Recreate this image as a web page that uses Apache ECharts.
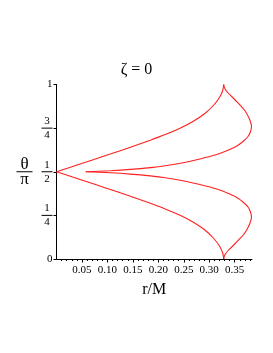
<!DOCTYPE html>
<html><head><meta charset="utf-8">
<script src="https://cdn.jsdelivr.net/npm/echarts@6/dist/echarts.min.js"></script>
<style>html,body{margin:0;padding:0;background:#fff}#c{width:273px;height:353px}</style>
</head><body><div id="c"></div>
<script>
// Branch 1: outer upper (from axis to top cusp)
const outerUpperX = [0, 0.0478, 0.0965, 0.1452, 0.1842, 0.2135, 0.2427, 0.2680, 0.2914, 0.3090, 0.3207, 0.3265, 0.3285];
const outerUpperY = [0.5, 0.5456, 0.5926, 0.6407, 0.6808, 0.7129, 0.7496, 0.7880, 0.8338, 0.8825, 0.9284, 0.9656, 1.0];
// Branch 2: top cusp -> bulge -> inner meeting point
const innerUpperX = [0.3285, 0.3294, 0.3324, 0.3372, 0.3441, 0.3519, 0.3606, 0.3684, 0.3752, 0.3801, 0.3830, 0.3811, 0.3762, 0.3674, 0.3558, 0.3402, 0.3148, 0.2817, 0.2485, 0.2135, 0.1842, 0.1452, 0.1062, 0.0575];
const innerUpperY = [1.0, 0.9857, 0.9685, 0.9513, 0.9312, 0.9083, 0.8825, 0.8567, 0.8252, 0.7937, 0.7622, 0.7307, 0.7020, 0.6762, 0.6504, 0.6275, 0.5989, 0.5731, 0.5513, 0.5341, 0.5238, 0.5135, 0.5060, 0.5];
// Branch 3: outer lower (from axis to bottom cusp)
const outerLowerX = [0, 0.0478, 0.0965, 0.1452, 0.1842, 0.2135, 0.2427, 0.2680, 0.2914, 0.3090, 0.3207, 0.3265, 0.3285];
const outerLowerY = [0.5, 0.4544, 0.4074, 0.3593, 0.3192, 0.2871, 0.2504, 0.2120, 0.1662, 0.1175, 0.0716, 0.0344, 0.0];
// Branch 4: bottom cusp -> bulge -> inner meeting point
const innerLowerX = [0.3285, 0.3294, 0.3324, 0.3372, 0.3441, 0.3519, 0.3606, 0.3684, 0.3752, 0.3801, 0.3830, 0.3811, 0.3762, 0.3674, 0.3558, 0.3402, 0.3148, 0.2817, 0.2485, 0.2135, 0.1842, 0.1452, 0.1062, 0.0575];
const innerLowerY = [0.0, 0.0143, 0.0315, 0.0487, 0.0688, 0.0917, 0.1175, 0.1433, 0.1748, 0.2063, 0.2378, 0.2693, 0.2980, 0.3238, 0.3496, 0.3725, 0.4011, 0.4269, 0.4487, 0.4659, 0.4762, 0.4865, 0.4940, 0.5];

const xTicks = [0.05, 0.10, 0.15, 0.20, 0.25, 0.30, 0.35];
const xMinorTicks = [0.01, 0.02, 0.03, 0.04, 0.06, 0.07, 0.08, 0.09, 0.11, 0.12, 0.13, 0.14, 0.16, 0.17, 0.18, 0.19,
  0.21, 0.22, 0.23, 0.24, 0.26, 0.27, 0.28, 0.29, 0.31, 0.32, 0.33, 0.34, 0.36, 0.37, 0.38];
const yTickLabels = {0: '0', 0.25: '1/4', 0.5: '1/2', 0.75: '3/4', 1: '1'};

function pairs(xs, ys) { return xs.map((x, i) => [x, ys[i]]); }

const red = '#ff2020';
const serif = 'Liberation Serif';
const X_MAX = 0.384;
function branch(xs, ys) {
  return { type: 'line', data: pairs(xs, ys), smooth: 0.25, showSymbol: false,
    lineStyle: { color: red, width: 1.1 }, xAxisIndex: 0, yAxisIndex: 0, animation: false };
}

const chart = echarts.init(document.getElementById('c'), null, { renderer: 'canvas' });
chart.setOption({
  animation: false,
  title: { text: 'ζ = 0', left: 'center', top: 57,
    textStyle: { fontFamily: serif, fontSize: 16, fontWeight: 'normal', color: '#000' } },
  grid: { left: 56.5, right: 21, top: 84.5, bottom: 94, containLabel: false },
  xAxis: [{
    type: 'value', min: 0, max: X_MAX,
    axisLine: { lineStyle: { color: '#000', width: 1 } },
    axisTick: { inside: false, length: 3.5, customValues: xTicks, lineStyle: { color: '#000' } },
    splitLine: { show: false },
    axisLabel: { margin: 6, color: '#000', fontFamily: serif, fontSize: 11,
      customValues: xTicks, formatter: v => v.toFixed(2) },
    name: 'r/M', nameLocation: 'middle', nameGap: 23,
    nameTextStyle: { fontFamily: serif, fontSize: 16, color: '#000' }
  }, {
    type: 'value', min: 0, max: X_MAX, position: 'bottom',
    axisLine: { show: false }, axisLabel: { show: false }, splitLine: { show: false },
    axisTick: { inside: false, length: 2, customValues: xMinorTicks, lineStyle: { color: '#000' } }
  }],
  yAxis: {
    type: 'value', min: 0, max: 1, interval: 0.25,
    axisLine: { lineStyle: { color: '#000', width: 1 } },
    axisTick: { inside: false, length: 3, lineStyle: { color: '#000' } },
    splitLine: { show: false },
    axisLabel: { margin: 4, color: '#000', fontFamily: serif, fontSize: 11, align: 'right',
      formatter: v => {
        const s = yTickLabels[v];
        if (!s) return '';
        if (s.indexOf('/') < 0) return '{w|' + s + '}';
        const p = s.split('/');
        return '{n|' + p[0] + '}\n{b| }\n{n|' + p[1] + '}';
      },
      rich: {
        w: { fontFamily: serif, fontSize: 11, color: '#000' },
        n: { fontFamily: serif, fontSize: 11, color: '#000', width: 11, align: 'center', lineHeight: 13 },
        b: { width: 11, height: 1, lineHeight: 1, backgroundColor: '#000', fontSize: 1 }
      }
    },
    name: '{t|θ}\n{b| }\n{t|π}', nameLocation: 'middle', nameRotate: 0, nameGap: 24,
    nameTextStyle: {
      rich: {
        t: { fontFamily: serif, fontSize: 17, color: '#000', width: 16, align: 'center', lineHeight: 14 },
        b: { width: 16, height: 1, lineHeight: 1, backgroundColor: '#000', fontSize: 1 }
      }
    }
  },
  series: [
    branch(outerUpperX, outerUpperY),
    branch(innerUpperX, innerUpperY),
    branch(outerLowerX, outerLowerY),
    branch(innerLowerX, innerLowerY)
  ]
});
</script></body></html>
